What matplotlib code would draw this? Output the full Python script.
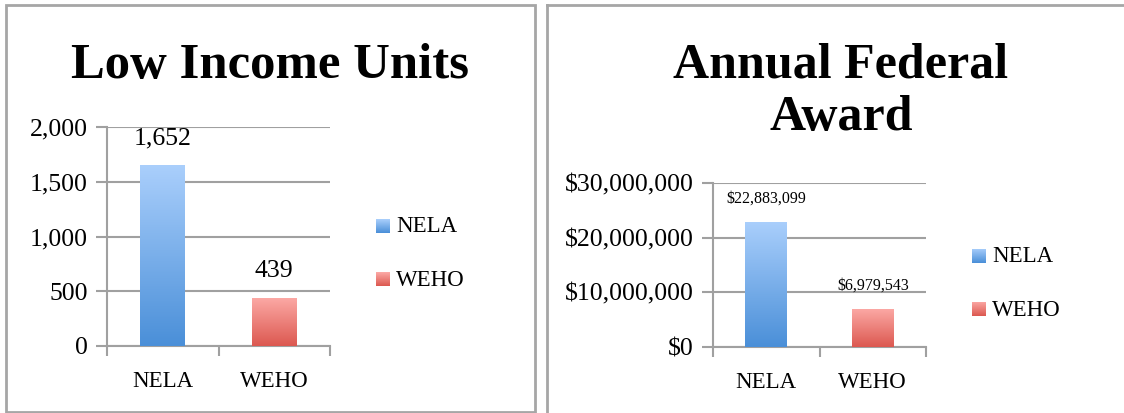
import matplotlib
matplotlib.use("Agg")
import matplotlib.pyplot as plt
import numpy as np
from matplotlib.patches import Rectangle
from matplotlib.colors import LinearSegmentedColormap
from matplotlib.ticker import FuncFormatter

categories = ["NELA", "WEHO"]
units = [1652, 439]
award = [22883099, 6979543]
units_ticks = [0, 500, 1000, 1500, 2000]
award_ticks = [0, 10000000, 20000000, 30000000]

plt.rcParams['font.family'] = ['Liberation Serif', 'DejaVu Serif']

W, H = 1124, 413
fig = plt.figure(figsize=(W / 100, H / 100), dpi=100)
fig.patch.set_facecolor('white')

def fx(x): return x / W
def fy(y): return 1 - y / H

# panel borders
fig.add_artist(Rectangle((fx(6), fy(412)), fx(535) - fx(6), fy(5) - fy(412),
                         fill=False, edgecolor='#a6a6a6', lw=2.0, transform=fig.transFigure))
fig.add_artist(plt.Line2D([fx(547), fx(547)], [fy(5), fy(413)], color='#a6a6a6', lw=2.0,
                          transform=fig.transFigure))
fig.add_artist(plt.Line2D([fx(547), fx(1124)], [fy(5), fy(5)], color='#a6a6a6', lw=2.0,
                          transform=fig.transFigure))

blue_cmap = LinearSegmentedColormap.from_list('b', ['#4a8fd8', '#aacffc'])
red_cmap = LinearSegmentedColormap.from_list('r', ['#dc5850', '#fcaaa6'])
cmaps = [blue_cmap, red_cmap]
grid_c = '#a0a0a0'


def make_axes(px0, px1, py_top, py_bot):
    ax = fig.add_axes([fx(px0), fy(py_bot), fx(px1) - fx(px0), fy(py_top) - fy(py_bot)])
    return ax


def draw(ax, vals, width, ymax, ticks, fmt, label_fs, label_offset):
    x = np.arange(len(categories))
    bars = ax.bar(x, vals, width=width, color='none', zorder=3)
    grad = np.linspace(0, 1, 256).reshape(-1, 1)
    for b, cm in zip(bars, cmaps):
        bx, by = b.get_x(), b.get_y()
        bw, bh = b.get_width(), b.get_height()
        im = ax.imshow(grad, cmap=cm, aspect='auto', origin='lower',
                       extent=[bx, bx + bw, by, by + bh], zorder=3)
        im.set_clip_path(b)
    ax.set_xlim(-0.5, len(categories) - 0.5)
    ax.set_ylim(0, ymax)
    ax.set_yticks(ticks)
    ax.yaxis.set_major_formatter(FuncFormatter(fmt))
    ax.set_xticks(x)
    ax.set_xticklabels(categories)
    ax.set_xticks([-0.5, 0.5, 1.5], minor=True)
    ax.tick_params(axis='x', which='major', length=0, pad=18, labelsize=16.5)
    ax.tick_params(axis='x', which='minor', length=7, width=1.5, color=grid_c)
    ax.tick_params(axis='y', length=8, width=1.5, color=grid_c, labelsize=18.5, pad=6)
    ax.grid(axis='y', color=grid_c, lw=1.5, zorder=0)
    for s in ['top', 'right']:
        ax.spines[s].set_visible(False)
    for s in ['left', 'bottom']:
        ax.spines[s].set_color(grid_c)
        ax.spines[s].set_linewidth(1.5)
    for xi, v in zip(x, vals):
        ax.annotate(fmt(v, None), (xi, v), xytext=(0, label_offset), textcoords='offset pixels',
                    ha='center', va='center', fontsize=label_fs, color='black')
    return ax


def fmt_units(v, pos):
    return f"{int(v):,}"


def fmt_award(v, pos):
    return f"${int(v):,}"


ax1 = make_axes(107, 330, 127, 346)
draw(ax1, units, 0.40, 2000, units_ticks, fmt_units, 18.5, 27)
ax2 = make_axes(713, 926, 183, 347)
draw(ax2, award, 0.39, 30000000, award_ticks, fmt_award, 11.5, 23)

# titles
fig.text(fx(270), fy(66), "Low Income Units", ha='center', va='center',
         fontsize=36.5, fontweight='bold')
fig.text(fx(841), fy(65), "Annual Federal", ha='center', va='center',
         fontsize=36, fontweight='bold')
fig.text(fx(841), fy(118), "Award", ha='center', va='center',
         fontsize=36, fontweight='bold')

# legends
def legend(x_sq, ys, sq):
    for name, cm, yc in zip(categories, cmaps, ys):
        lax = fig.add_axes([fx(x_sq), fy(yc + sq / 2), fx(sq), fy(yc - sq / 2) - fy(yc + sq / 2)])
        lax.imshow(np.linspace(0, 1, 64).reshape(-1, 1), cmap=cm, aspect='auto', origin='lower')
        lax.axis('off')
        fig.text(fx(x_sq + sq + 6), fy(yc + 1), name, ha='left', va='center', fontsize=16.5)

legend(376, [226, 279], 14)
legend(972, [256, 309], 14)

fig.savefig('out.png', dpi=100, facecolor='white')
